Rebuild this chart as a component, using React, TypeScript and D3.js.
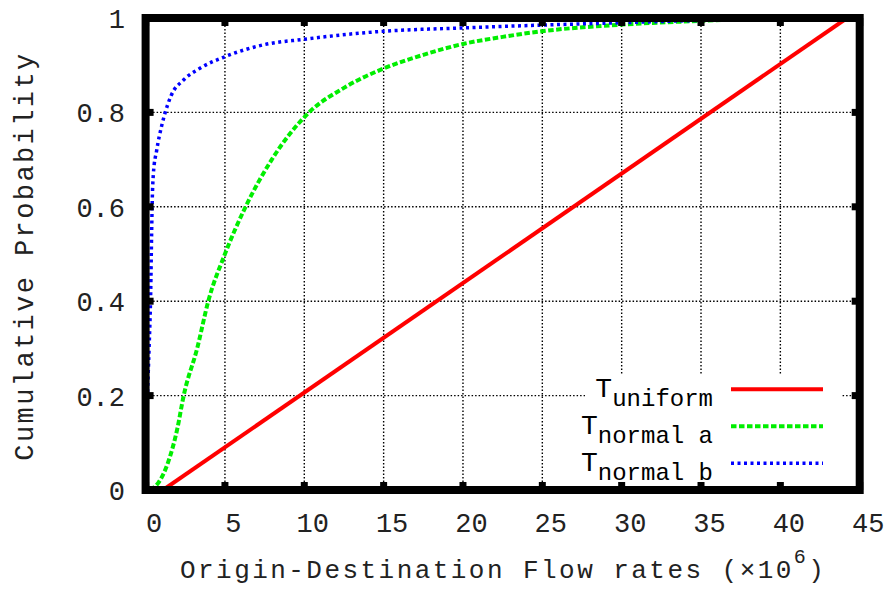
import React from "react";
import * as d3 from "d3";

const xTicks = [0, 5, 10, 15, 20, 25, 30, 35, 40, 45];
const yTicks = [0, 0.2, 0.4, 0.6, 0.8, 1];
const yTickLabels = ["0", "0.2", "0.4", "0.6", "0.8", "1"];

const uniformX = [1.1, 44.2];
const uniformY = [0, 1];

const normalAX = [0.3, 0.8, 1.4, 2.0, 2.4, 3.25, 3.95, 5, 6.3, 7.95, 10.3, 12.5, 15, 17.5, 20, 22.5, 25, 30, 35, 40];
const normalAY = [0, 0.015, 0.057, 0.13, 0.2, 0.3, 0.4, 0.5, 0.6, 0.7, 0.8, 0.852, 0.893, 0.922, 0.945, 0.96, 0.972, 0.986, 0.994, 1.0];

const normalBX = [0, 0.05, 0.12, 0.22, 0.32, 0.38, 0.42, 0.49, 0.7, 1.0, 1.22, 1.6, 2.4, 3.4, 5, 7.4, 10, 14.6, 20, 25, 30, 35, 40];
const normalBY = [0, 0.1, 0.2, 0.3, 0.417, 0.544, 0.614, 0.67, 0.72, 0.77, 0.798, 0.835, 0.869, 0.893, 0.918, 0.943, 0.955, 0.971, 0.979, 0.985, 0.99, 0.995, 0.998];

const series = [
  { name: "uniform", xs: uniformX, ys: uniformY, color: "#ff0000", width: 4, dash: "none" },
  { name: "normal a", xs: normalAX, ys: normalAY, color: "#00ee00", width: 4, dash: "5.5,2.5" },
  { name: "normal b", xs: normalBX, ys: normalBY, color: "#0000ff", width: 3.5, dash: "3,3.5" },
];

const W = 889;
const H = 592;
const L = 145.6, R = 859.7, T = 18, B = 490;

export default function App() {
  const x = d3.scaleLinear().domain([0, 45]).range([L, R]);
  const y = d3.scaleLinear().domain([0, 1]).range([B, T]);
  const line = d3
    .line<[number, number]>()
    .x((d) => x(d[0]))
    .y((d) => y(d[1]))
    .curve(d3.curveMonotoneX);

  const mono = "'Liberation Mono', 'DejaVu Sans Mono', monospace";
  const legendX1 = 731, legendX2 = 823;
  const legendY0 = 389.3, legendDy = 37;

  return (
    <svg width={W} height={H} style={{ position: "absolute", left: 0, top: 0, background: "#fff" }}>
      <defs>
        <clipPath id="plotClip">
          <rect x={L} y={T} width={R - L} height={B - T} />
        </clipPath>
      </defs>
      <rect x={0} y={0} width={W} height={H} fill="#fff" />
      {/* grid */}
      <g stroke="#000" strokeWidth={1.4} strokeDasharray="1.5,2">
        {xTicks.filter((t) => t > 0 && t < 45).map((t) => (
          <line key={"gx" + t} x1={x(t)} x2={x(t)} y1={T + 4} y2={B - 4} />
        ))}
        {yTicks.filter((t) => t > 0 && t < 1).map((t) => (
          <line key={"gy" + t} x1={L + 4} x2={R - 4} y1={y(t)} y2={y(t)} />
        ))}
      </g>
      {/* legend background */}
      <rect x={585} y={374} width={256} height={B - 374} fill="#fff" />
      {/* curves */}
      <g clipPath="url(#plotClip)">
        {series.map((s) => (
          <path
            key={s.name}
            d={line(s.xs.map((v, i) => [v, s.ys[i]] as [number, number])) || ""}
            fill="none"
            stroke={s.color}
            strokeWidth={s.width}
            strokeDasharray={s.dash}
          />
        ))}
      </g>
      {/* legend */}
      {series.map((s, i) => {
        const ly = legendY0 + i * legendDy;
        return (
          <g key={"lg" + s.name}>
            <text x={713} y={ly + 8} textAnchor="end" fontFamily={mono} fill="#000">
              <tspan fontSize={28}>T</tspan>
              <tspan fontSize={24} dy={9}>{s.name}</tspan>
            </text>
            <line x1={legendX1} x2={legendX2} y1={ly} y2={ly} stroke={s.color} strokeWidth={s.width} strokeDasharray={s.dash} />
          </g>
        );
      })}
      {/* frame */}
      <rect x={L} y={T} width={R - L} height={B - T} fill="none" stroke="#000" strokeWidth={8} />
      {/* ticks */}
      <g stroke="#000" strokeWidth={7}>
        {xTicks.map((t) => (
          <g key={"tx" + t}>
            <line x1={x(t)} x2={x(t)} y1={B} y2={B - 8} />
            <line x1={x(t)} x2={x(t)} y1={T} y2={T + 8} />
          </g>
        ))}
        {yTicks.map((t) => (
          <g key={"ty" + t}>
            <line x1={L} x2={L + 8} y1={y(t)} y2={y(t)} />
            <line x1={R} x2={R - 8} y1={y(t)} y2={y(t)} />
          </g>
        ))}
      </g>
      {/* tick labels */}
      <g fontFamily={mono} fontSize={27} fill="#222">
        {xTicks.map((t) => (
          <text key={"lx" + t} x={x(t) + 8.5} y={532} textAnchor="middle">{t}</text>
        ))}
        {yTicks.map((t, i) => (
          <text key={"ly" + t} x={125} y={y(t) + 10} textAnchor="end">{yTickLabels[i]}</text>
        ))}
      </g>
      {/* axis titles */}
      <text x={180} y={578} fontFamily={mono} fontSize={26} letterSpacing={2.45} fill="#222">
        Origin-Destination Flow rates (×10
        <tspan fontSize={20} dy={-15}>6</tspan>
        <tspan fontSize={26} dy={15}>)</tspan>
      </text>
      <text
        transform="translate(33,256) rotate(-90)"
        textAnchor="middle"
        fontFamily={mono}
        fontSize={27}
        letterSpacing={2.4}
        fill="#222"
      >
        Cumulative Probability
      </text>
    </svg>
  );
}
